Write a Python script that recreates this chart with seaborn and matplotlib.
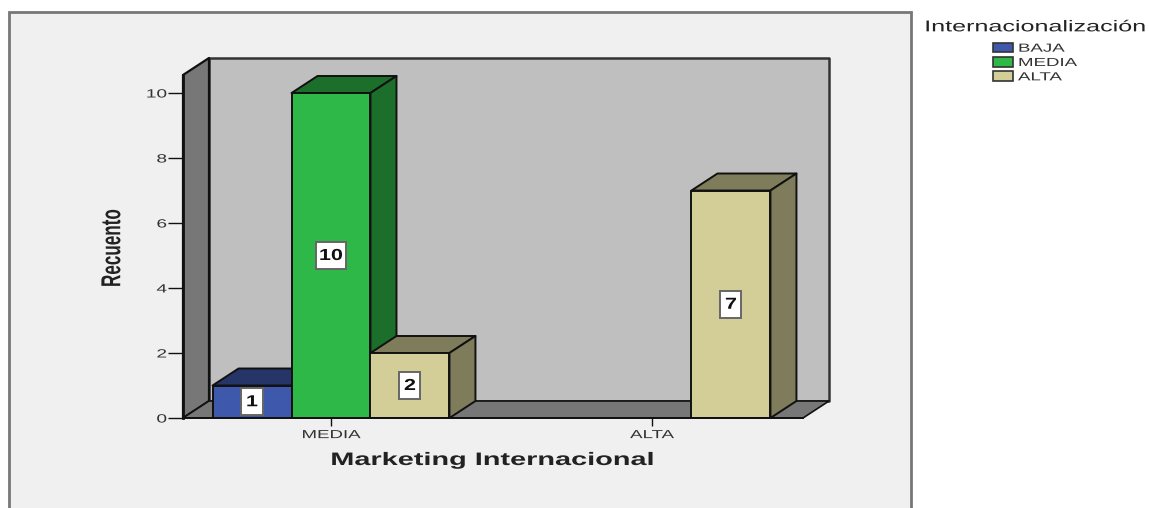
import matplotlib
matplotlib.use("Agg")
import matplotlib.pyplot as plt
import matplotlib.patheffects as pe
from matplotlib.colors import to_rgb
from matplotlib.patches import Patch, Polygon, Rectangle
from matplotlib.transforms import Affine2D
import pandas as pd
import seaborn as sns

# Cross-tabulated counts
marketing = ["MEDIA", "MEDIA", "MEDIA", "ALTA"]
internacionalizacion = ["BAJA", "MEDIA", "ALTA", "ALTA"]
recuento = [1, 10, 2, 7]
marketing_order = ["MEDIA", "ALTA"]
nivel_order = ["BAJA", "MEDIA", "ALTA"]
y_ticks = [0, 2, 4, 6, 8, 10]

colors = {"BAJA": "#3E58AC", "MEDIA": "#2EB848", "ALTA": "#D3CE97"}
PANEL = "#F0F0F0"
BACK = "#BFBFBF"
WALL = "#777777"
EDGE = "#111111"
TEXT_STRETCH = 1.6

W, H = 1149, 508
sns.set_theme(style="white")
plt.rcParams["font.family"] = ["Liberation Sans", "DejaVu Sans"]


class WideText(pe.AbstractPathEffect):
    """Widens a text's glyphs horizontally around one of its edges or its centre."""

    def __init__(self, text, anchor="center", factor=TEXT_STRETCH, shift=0):
        super().__init__()
        self.text = text
        self.anchor = anchor
        self.factor = factor
        self.shift = shift

    def draw_path(self, renderer, gc, tpath, affine, rgbFace=None):
        box = self.text.get_window_extent(self.text.figure.canvas.get_renderer())
        origin = {"left": box.x0, "right": box.x1, "center": (box.x0 + box.x1) / 2}[self.anchor]
        widen = Affine2D().translate(-origin, 0).scale(self.factor, 1).translate(origin + self.shift, 0)
        renderer.draw_path(gc, tpath, affine + widen, rgbFace)


def widen(text, **kwargs):
    text.set_path_effects([WideText(text, **kwargs)])


fig = plt.figure(figsize=(W / 100, H / 100), dpi=100, facecolor="white")

# Panel behind the chart; its lower edge runs off the figure
fig.add_artist(Rectangle((9 / W, -0.02), 902 / W, 1.02 - 12 / H,
                         transform=fig.transFigure, facecolor=PANEL,
                         edgecolor="#777777", linewidth=2, zorder=-5))

# Front plane of the pseudo-3D plot box
left, right, base, top = 183, 803, 418, 75
ax = fig.add_axes([left / W, 1 - base / H, (right - left) / W, (base - top) / H])
ax.patch.set_visible(False)

px_per_unit = 32.5
px_per_cat = 321
center_px = 331

df = pd.DataFrame({"Marketing": marketing, "Nivel": internacionalizacion, "Recuento": recuento})
sns.barplot(data=df, x="Marketing", y="Recuento", hue="Nivel",
            order=marketing_order, hue_order=nivel_order, palette=colors,
            width=0.738, gap=0, dodge=True, saturation=1, errorbar=None,
            edgecolor=EDGE, linewidth=1.4, legend=False, ax=ax)
ax.set_xlim((left - center_px) / px_per_cat, (right - center_px) / px_per_cat)
ax.set_ylim(0, (base - top) / px_per_unit)

dx = 26 / px_per_cat
dy = 17 / px_per_unit
x0, x1 = ax.get_xlim()
y0, y1 = ax.get_ylim()


def face(points, color, z, lw=1.4, edge=EDGE):
    ax.add_patch(Polygon(points, closed=True, facecolor=color, edgecolor=edge,
                         linewidth=lw, zorder=z, clip_on=False, joinstyle="round"))


# Back wall, left wall and floor of the box
face([(x0 + dx, y0 + dy), (x1 + dx, y0 + dy), (x1 + dx, y1 + dy), (x0 + dx, y1 + dy)], BACK, 0.1, 1.8, "#333333")
face([(x0, y0), (x0 + dx, y0 + dy), (x0 + dx, y1 + dy), (x0, y1)], WALL, 0.2, 1.6)
face([(x0, y0), (x0 + dx, y0 + dy), (x1 + dx, y0 + dy), (x1, y0)], WALL, 0.2, 1.2)

# Depth faces for every bar, painted left to right so nearer bars overlap
bars = []
for level, container in zip(nivel_order, ax.containers):
    for patch in container:
        if patch.get_height() > 0:
            bars.append((patch, level))
bars.sort(key=lambda item: item[0].get_x())

for i, (patch, level) in enumerate(bars):
    xa, xb = patch.get_x(), patch.get_x() + patch.get_width()
    h = patch.get_height()
    shade = tuple(c * 0.6 for c in to_rgb(colors[level]))
    z = 1 + i
    face([(xa, h), (xa + dx, h + dy), (xb + dx, h + dy), (xb, h)], shade, z)
    face([(xb, 0), (xb + dx, dy), (xb + dx, h + dy), (xb, h)], shade, z)
    patch.set_zorder(z + 0.5)

# Value labels in small white boxes
for container in ax.containers:
    labels = ax.bar_label(container, label_type="center", fontsize=11.5,
                          fontweight="bold", color="#111111",
                          bbox=dict(boxstyle="square,pad=0.38", facecolor="white",
                                    edgecolor="#666666", linewidth=1.4))
    for label in labels:
        label.set_zorder(20)
        widen(label, factor=1.35)

sns.despine(ax=ax, top=True, right=True)
ax.spines["left"].set(color=EDGE, linewidth=2, zorder=5)
ax.spines["bottom"].set(color=EDGE, linewidth=1.4, zorder=30)

ax.set_yticks(y_ticks)
ax.tick_params(axis="y", left=True, length=10.5, width=1, color=EDGE, pad=1,
               labelsize=8.6, labelcolor="#333333")
ax.tick_params(axis="x", bottom=True, length=6, width=1, color=EDGE, pad=2,
               labelsize=8.4, labelcolor="#333333")
for tick_label in ax.get_yticklabels():
    widen(tick_label, anchor="right")
for tick_label in ax.get_xticklabels():
    widen(tick_label)

ax.set_xlabel("")
ax.set_ylabel("")
widen(fig.text(492 / W, 1 - 460.5 / H, "Marketing Internacional", fontsize=13, fontweight="bold",
               color="#222222", ha="center", va="center"))
widen(fig.text(113 / W, 1 - 248 / H, "Recuento", fontsize=12.3, fontweight="bold", rotation=90,
               color="#222222", ha="center", va="center"))

# Legend on the right of the panel
handles = [Patch(facecolor=colors[n], edgecolor="#333333", linewidth=1.2, label=n)
           for n in nivel_order]
legend = fig.legend(handles=handles, title="Internacionalización", frameon=False,
                    loc="upper center", bbox_to_anchor=(1024 / W, 1 - 17 / H),
                    fontsize=8.4, title_fontsize=11.3, labelspacing=0.2,
                    handlelength=1.7, handleheight=0.9, handletextpad=0.43,
                    borderpad=0.2, borderaxespad=0)
legend._legend_box.sep = 6
legend.get_title().set_color("#222222")
widen(legend.get_title(), shift=12)
for text in legend.get_texts():
    text.set_color("#333333")
    widen(text, anchor="left")

fig.savefig("out.png", dpi=100, facecolor="white")
